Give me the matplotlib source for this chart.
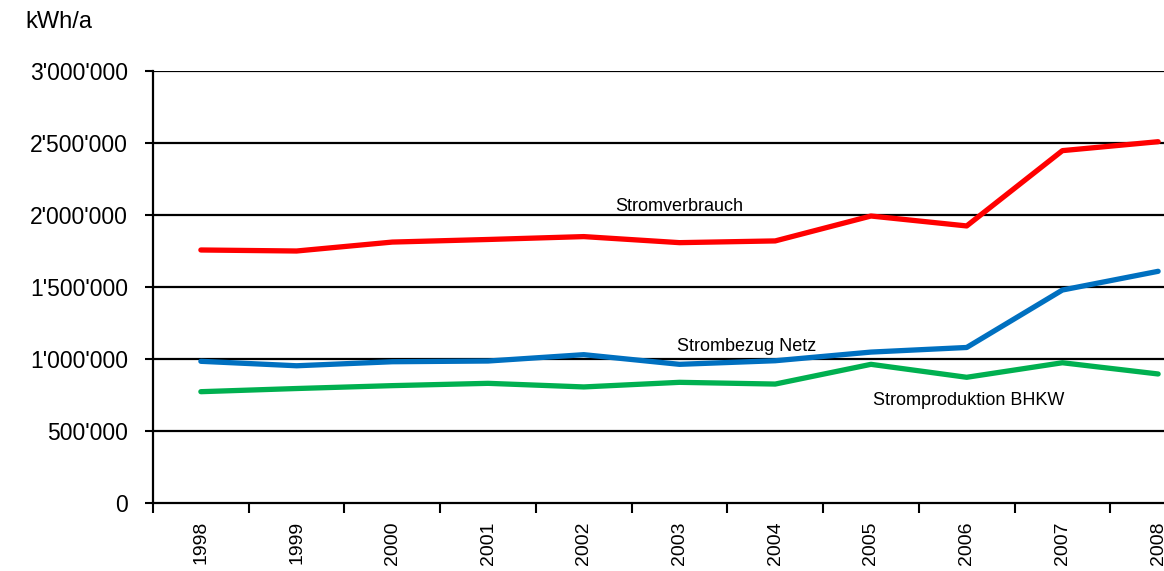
import matplotlib
matplotlib.use("Agg")
import matplotlib.pyplot as plt
from matplotlib.ticker import FuncFormatter

years = ["1998", "1999", "2000", "2001", "2002", "2003", "2004", "2005", "2006", "2007", "2008"]
stromverbrauch = [1757000, 1750000, 1812000, 1830000, 1850000, 1808000, 1820000, 1993000, 1924000, 2447000, 2509000]
strombezug_netz = [984000, 953000, 981000, 986000, 1030000, 963000, 988000, 1048000, 1080000, 1479000, 1609000]
stromproduktion_bhkw = [773000, 795000, 815000, 831000, 806000, 838000, 826000, 963000, 873000, 974000, 896000]

plt.rcParams['font.family'] = ['Liberation Sans', 'DejaVu Sans']

fig = plt.figure(figsize=(11.64, 5.71), dpi=100)
ax = fig.add_axes([153/1164, 68/571, 1053/1164, 432/571])

x = list(range(len(years)))
ax.plot(x, stromverbrauch, color='#FF0000', lw=3.8, solid_capstyle='round', solid_joinstyle='round', zorder=3)
ax.plot(x, strombezug_netz, color='#0070C0', lw=3.8, solid_capstyle='round', solid_joinstyle='round', zorder=3)
ax.plot(x, stromproduktion_bhkw, color='#00B050', lw=3.8, solid_capstyle='round', solid_joinstyle='round', zorder=3)

ax.set_xlim(-0.5, len(years) - 0.5)
ax.set_ylim(0, 3000000)
yt = [0, 500000, 1000000, 1500000, 2000000, 2500000, 3000000]
ax.set_yticks(yt)
ax.yaxis.set_major_formatter(FuncFormatter(lambda v, p: f"{int(v):,}".replace(",", "'")))
for v in yt[1:]:
    ax.axhline(v, color='black', lw=1.6, zorder=1)

ax.set_xticks([i - 0.5 for i in range(len(years) + 1)])
ax.set_xticklabels([])
ax.set_xticks(x, minor=True)
ax.set_xticklabels(years, minor=True, rotation=90, fontsize=14)
ax.tick_params(axis='x', which='minor', length=0, pad=13)
ax.tick_params(axis='x', which='major', length=7, width=1.5, direction='out')
ax.tick_params(axis='y', length=6, width=1.5, direction='out', labelsize=16.5, pad=12)

for s in ['top', 'right']:
    ax.spines[s].set_visible(False)
ax.spines['left'].set_linewidth(1.6)
ax.spines['bottom'].set_linewidth(1.6)

ax.text(5.0, 2060000, "Stromverbrauch", fontsize=13, ha='center', va='center')
ax.text(4.97, 1090000, "Strombezug Netz", fontsize=13, ha='left', va='center')
ax.text(7.02, 715000, "Stromproduktion BHKW", fontsize=13, ha='left', va='center')

fig.text(25/1164, 1 - 22/571, "kWh/a", fontsize=17, ha='left', va='center')

fig.savefig("out.png", dpi=100)
